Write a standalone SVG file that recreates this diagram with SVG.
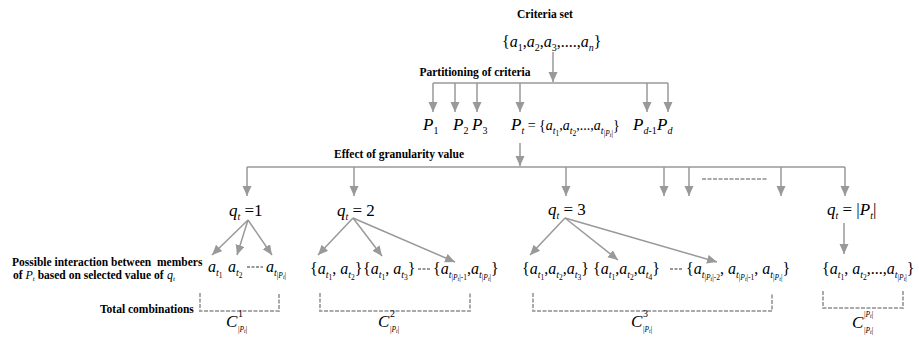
<svg xmlns="http://www.w3.org/2000/svg" width="919" height="337" viewBox="0 0 919 337">
<style>
text{font-family:'Liberation Serif','Times New Roman','DejaVu Serif',serif;fill:#000}
.lb{font-weight:bold;font-size:11.5px}
.mi{font-style:italic;font-size:16px}
.sm{font-size:14px}
.big{font-size:17px}
.up{font-style:normal}
.s1{font-size:10px}
.s2{font-size:7.5px}
.s3{font-size:6px}
.ln{stroke:#999;stroke-width:1.5;fill:none}
.ar{stroke:#999;stroke-width:1.5;fill:none;marker-end:url(#ah)}
.da{stroke:#aaa;stroke-width:2;fill:none;stroke-dasharray:4 1.5}
.dd{stroke:#777;stroke-width:1.5;fill:none;stroke-dasharray:3 1.5}
</style>
<defs>
<marker id="ah" markerUnits="userSpaceOnUse" markerWidth="10" markerHeight="10" refX="10" refY="4.5" orient="auto"><path d="M0,0 L10,4.5 L0,9 z" fill="#999"/></marker>
</defs>
<g id="connectors">
<line class="ar" x1="553" y1="52" x2="553" y2="82"/>
<line class="ln" x1="433" y1="83" x2="668" y2="83"/>
<line class="ar" x1="433" y1="83" x2="433" y2="112"/>
<line class="ar" x1="455" y1="83" x2="455" y2="112"/>
<line class="ar" x1="477" y1="83" x2="477" y2="112"/>
<line class="ar" x1="520" y1="83" x2="520" y2="112"/>
<line class="ar" x1="647" y1="83" x2="647" y2="112"/>
<line class="ar" x1="668" y1="83" x2="668" y2="112"/>
<line class="ar" x1="520" y1="143" x2="520" y2="166"/>
<line class="ln" x1="247" y1="167" x2="845" y2="167"/>
<line class="ar" x1="247" y1="167" x2="247" y2="196"/>
<line class="ar" x1="354" y1="167" x2="354" y2="196"/>
<line class="ar" x1="566" y1="167" x2="566" y2="196"/>
<line class="ar" x1="664" y1="167" x2="664" y2="196"/>
<line class="ar" x1="689" y1="167" x2="689" y2="196"/>
<line class="ar" x1="781" y1="167" x2="781" y2="196"/>
<line class="ar" x1="845" y1="167" x2="845" y2="196"/>
<line class="da" x1="702" y1="179" x2="767" y2="179"/>
<line class="ar" x1="248" y1="220" x2="212" y2="255"/>
<line class="ar" x1="248" y1="220" x2="237" y2="255"/>
<line class="ar" x1="248" y1="220" x2="272" y2="255"/>
<line class="ar" x1="353" y1="218" x2="318" y2="255"/>
<line class="ar" x1="353" y1="218" x2="382" y2="256"/>
<line class="ar" x1="353" y1="218" x2="455" y2="262"/>
<line class="ar" x1="565" y1="218" x2="530" y2="255"/>
<line class="ar" x1="565" y1="218" x2="618" y2="260"/>
<line class="ar" x1="565" y1="218" x2="717" y2="262"/>
<line class="ar" x1="844" y1="223" x2="844" y2="254"/>
<path class="da" d="M200,293 V311 H279 V293"/>
<path class="da" d="M320,293 V311 H470 V293"/>
<path class="da" d="M533,293 V311 H772 V293"/>
<path class="da" d="M823,291 V308 H903 V291"/>
<line class="dd" x1="247" y1="267" x2="263" y2="267"/>
<line class="dd" x1="418" y1="269" x2="431" y2="269"/>
<line class="dd" x1="670" y1="269" x2="683" y2="269"/>
</g>
<g id="criteria">
<text class="lb" x="545" y="18" text-anchor="middle">Criteria set</text>
<text class="mi" x="502" y="47"><tspan class="up">{</tspan>a<tspan class="s1 up" y="51">1</tspan><tspan class="up" y="47">,</tspan>a<tspan class="s1 up" y="51">2</tspan><tspan class="up" y="47">,</tspan>a<tspan class="s1 up" y="51">3</tspan><tspan class="up" y="47">,....,</tspan>a<tspan class="s1" y="51">n</tspan><tspan class="up" y="47">}</tspan></text>
</g>
<g id="partitioning">
<text class="lb" x="475" y="76" text-anchor="middle">Partitioning of criteria</text>
</g>
<g id="partitions">
<text class="mi big" x="423" y="130">P<tspan class="s1 up" y="134">1</tspan></text>
<text class="mi big" x="453" y="130">P<tspan class="s1 up" y="134">2</tspan></text>
<text class="mi big" x="472" y="130">P<tspan class="s1 up" y="134">3</tspan></text>
<text class="mi sm" x="511" y="130"><tspan class="big">P</tspan><tspan class="s1" y="134">t</tspan><tspan class="up" y="130"> = {</tspan>a<tspan class="s1" y="134">t</tspan><tspan class="s2 up" y="136">1</tspan><tspan class="up" y="130">,</tspan>a<tspan class="s1" y="134">t</tspan><tspan class="s2 up" y="136">2</tspan><tspan class="up" y="130">,...,</tspan>a<tspan class="s1" y="134">t</tspan><tspan class="s2 up" y="136">|</tspan><tspan class="s2" y="136">P</tspan><tspan class="s3" y="137">t</tspan><tspan class="s2 up" y="136">|</tspan><tspan class="up" y="130">}</tspan></text>
<text class="mi big" x="633" y="130">P<tspan class="s1" y="134">d<tspan class="up">-1</tspan></tspan></text>
<text class="mi big" x="657" y="130">P<tspan class="s1" y="134">d</tspan></text>
</g>
<g id="granularity">
<text class="lb" x="399" y="158" text-anchor="middle">Effect of granularity value</text>
</g>
<g id="q1">
<text class="mi big" x="229" y="216">q<tspan class="s1" y="220">t</tspan><tspan class="up" y="216"> =1</tspan></text>
</g>
<g id="q2">
<text class="mi big" x="337" y="216">q<tspan class="s1" y="220">t</tspan><tspan class="up" y="216"> = 2</tspan></text>
</g>
<g id="q3">
<text class="mi big" x="548" y="215">q<tspan class="s1" y="219">t</tspan><tspan class="up" y="215"> = 3</tspan></text>
</g>
<g id="qP">
<text class="mi big" x="827" y="215">q<tspan class="s1" y="219">t</tspan><tspan class="up" y="215"> = |</tspan>P<tspan class="s1" y="219">t</tspan><tspan class="up" y="215">|</tspan></text>
</g>
<g id="labels">
<text class="lb" x="12" y="266" xml:space="preserve">Possible interaction between  members</text>
<text class="lb" x="13" y="279">of <tspan style="font-style:italic;font-weight:normal;font-size:12px">P<tspan font-size="7" y="281">t</tspan></tspan><tspan y="279"> based on selected value of</tspan></text>
<text class="mi" x="167" y="279" style="font-size:12px">q<tspan font-size="7" y="281">t</tspan></text>
<text class="lb" x="100" y="313">Total combinations</text>
</g>
<g id="row1">
<text class="mi" x="208" y="272">a<tspan class="s1" y="276">t</tspan><tspan class="s2 up" y="278">1</tspan></text>
<text class="mi" x="228" y="272">a<tspan class="s1" y="276">t</tspan><tspan class="s2 up" y="278">2</tspan></text>
<text class="mi" x="266" y="272">a<tspan class="s1" y="276">t</tspan><tspan class="s2 up" y="278">|</tspan><tspan class="s2" y="278">P</tspan><tspan class="s3" y="279">t</tspan><tspan class="s2 up" y="278">|</tspan></text>
</g>
<g id="row2">
<text class="mi" x="310" y="274"><tspan class="up">{</tspan>a<tspan class="s1" y="278">t</tspan><tspan class="s2 up" y="280">1</tspan><tspan class="up" y="274">, </tspan>a<tspan class="s1" y="278">t</tspan><tspan class="s2 up" y="280">2</tspan><tspan class="up" y="274">}</tspan></text>
<text class="mi" x="363" y="274"><tspan class="up">{</tspan>a<tspan class="s1" y="278">t</tspan><tspan class="s2 up" y="280">1</tspan><tspan class="up" y="274">, </tspan>a<tspan class="s1" y="278">t</tspan><tspan class="s2 up" y="280">3</tspan><tspan class="up" y="274">}</tspan></text>
<text class="mi" x="433" y="274"><tspan class="up">{</tspan>a<tspan class="s1" y="278">t</tspan><tspan class="s2 up" y="280">|</tspan><tspan class="s2" y="280">P</tspan><tspan class="s3" y="281">t</tspan><tspan class="s2 up" y="280">|-1</tspan><tspan class="up" y="274">,</tspan>a<tspan class="s1" y="278">t</tspan><tspan class="s2 up" y="280">|</tspan><tspan class="s2" y="280">P</tspan><tspan class="s3" y="281">t</tspan><tspan class="s2 up" y="280">|</tspan><tspan class="up" y="274">}</tspan></text>
</g>
<g id="row3">
<text class="mi" x="522" y="274"><tspan class="up">{</tspan>a<tspan class="s1" y="278">t</tspan><tspan class="s2 up" y="280">1</tspan><tspan class="up" y="274">,</tspan>a<tspan class="s1" y="278">t</tspan><tspan class="s2 up" y="280">2</tspan><tspan class="up" y="274">,</tspan>a<tspan class="s1" y="278">t</tspan><tspan class="s2 up" y="280">3</tspan><tspan class="up" y="274">}</tspan></text>
<text class="mi" x="593" y="274"><tspan class="up">{</tspan>a<tspan class="s1" y="278">t</tspan><tspan class="s2 up" y="280">1</tspan><tspan class="up" y="274">,</tspan>a<tspan class="s1" y="278">t</tspan><tspan class="s2 up" y="280">2</tspan><tspan class="up" y="274">,</tspan>a<tspan class="s1" y="278">t</tspan><tspan class="s2 up" y="280">4</tspan><tspan class="up" y="274">}</tspan></text>
<text class="mi" x="686" y="274"><tspan class="up">{</tspan>a<tspan class="s1" y="278">t</tspan><tspan class="s2 up" y="280">|</tspan><tspan class="s2" y="280">P</tspan><tspan class="s3" y="281">t</tspan><tspan class="s2 up" y="280">|-2</tspan><tspan class="up" y="274">, </tspan>a<tspan class="s1" y="278">t</tspan><tspan class="s2 up" y="280">|</tspan><tspan class="s2" y="280">P</tspan><tspan class="s3" y="281">t</tspan><tspan class="s2 up" y="280">|-1</tspan><tspan class="up" y="274">, </tspan>a<tspan class="s1" y="278">t</tspan><tspan class="s2 up" y="280">|</tspan><tspan class="s2" y="280">P</tspan><tspan class="s3" y="281">t</tspan><tspan class="s2 up" y="280">|</tspan><tspan class="up" y="274">}</tspan></text>
</g>
<g id="rowP">
<text class="mi" x="822" y="274"><tspan class="up">{</tspan>a<tspan class="s1" y="278">t</tspan><tspan class="s2 up" y="280">1</tspan><tspan class="up" y="274">, </tspan>a<tspan class="s1" y="278">t</tspan><tspan class="s2 up" y="280">2</tspan><tspan class="up" y="274">,...,</tspan>a<tspan class="s1" y="278">t</tspan><tspan class="s2 up" y="280">|</tspan><tspan class="s2" y="280">P</tspan><tspan class="s3" y="281">t</tspan><tspan class="s2 up" y="280">|</tspan><tspan class="up" y="274">}</tspan></text>
</g>
<g id="c1">
<text class="mi big" x="226" y="327">C</text>
<text class="mi s1 up" x="238" y="317">1</text>
<text class="mi s2" x="238" y="332"><tspan class="up">|</tspan>P<tspan class="s3" y="333">t</tspan><tspan class="up" y="332">|</tspan></text>
</g>
<g id="c2">
<text class="mi big" x="378" y="327">C</text>
<text class="mi s1 up" x="390" y="317">2</text>
<text class="mi s2" x="390" y="332"><tspan class="up">|</tspan>P<tspan class="s3" y="333">t</tspan><tspan class="up" y="332">|</tspan></text>
</g>
<g id="c3">
<text class="mi big" x="631" y="327">C</text>
<text class="mi s1 up" x="643" y="317">3</text>
<text class="mi s2" x="643" y="332"><tspan class="up">|</tspan>P<tspan class="s3" y="333">t</tspan><tspan class="up" y="332">|</tspan></text>
</g>
<g id="cP">
<text class="mi big" x="852" y="328">C</text>
<text class="mi s2" x="864" y="317"><tspan class="up">|</tspan>P<tspan class="s3" y="318">t</tspan><tspan class="up" y="317">|</tspan></text>
<text class="mi s2" x="864" y="333"><tspan class="up">|</tspan>P<tspan class="s3" y="334">t</tspan><tspan class="up" y="333">|</tspan></text>
</g>
</svg>
